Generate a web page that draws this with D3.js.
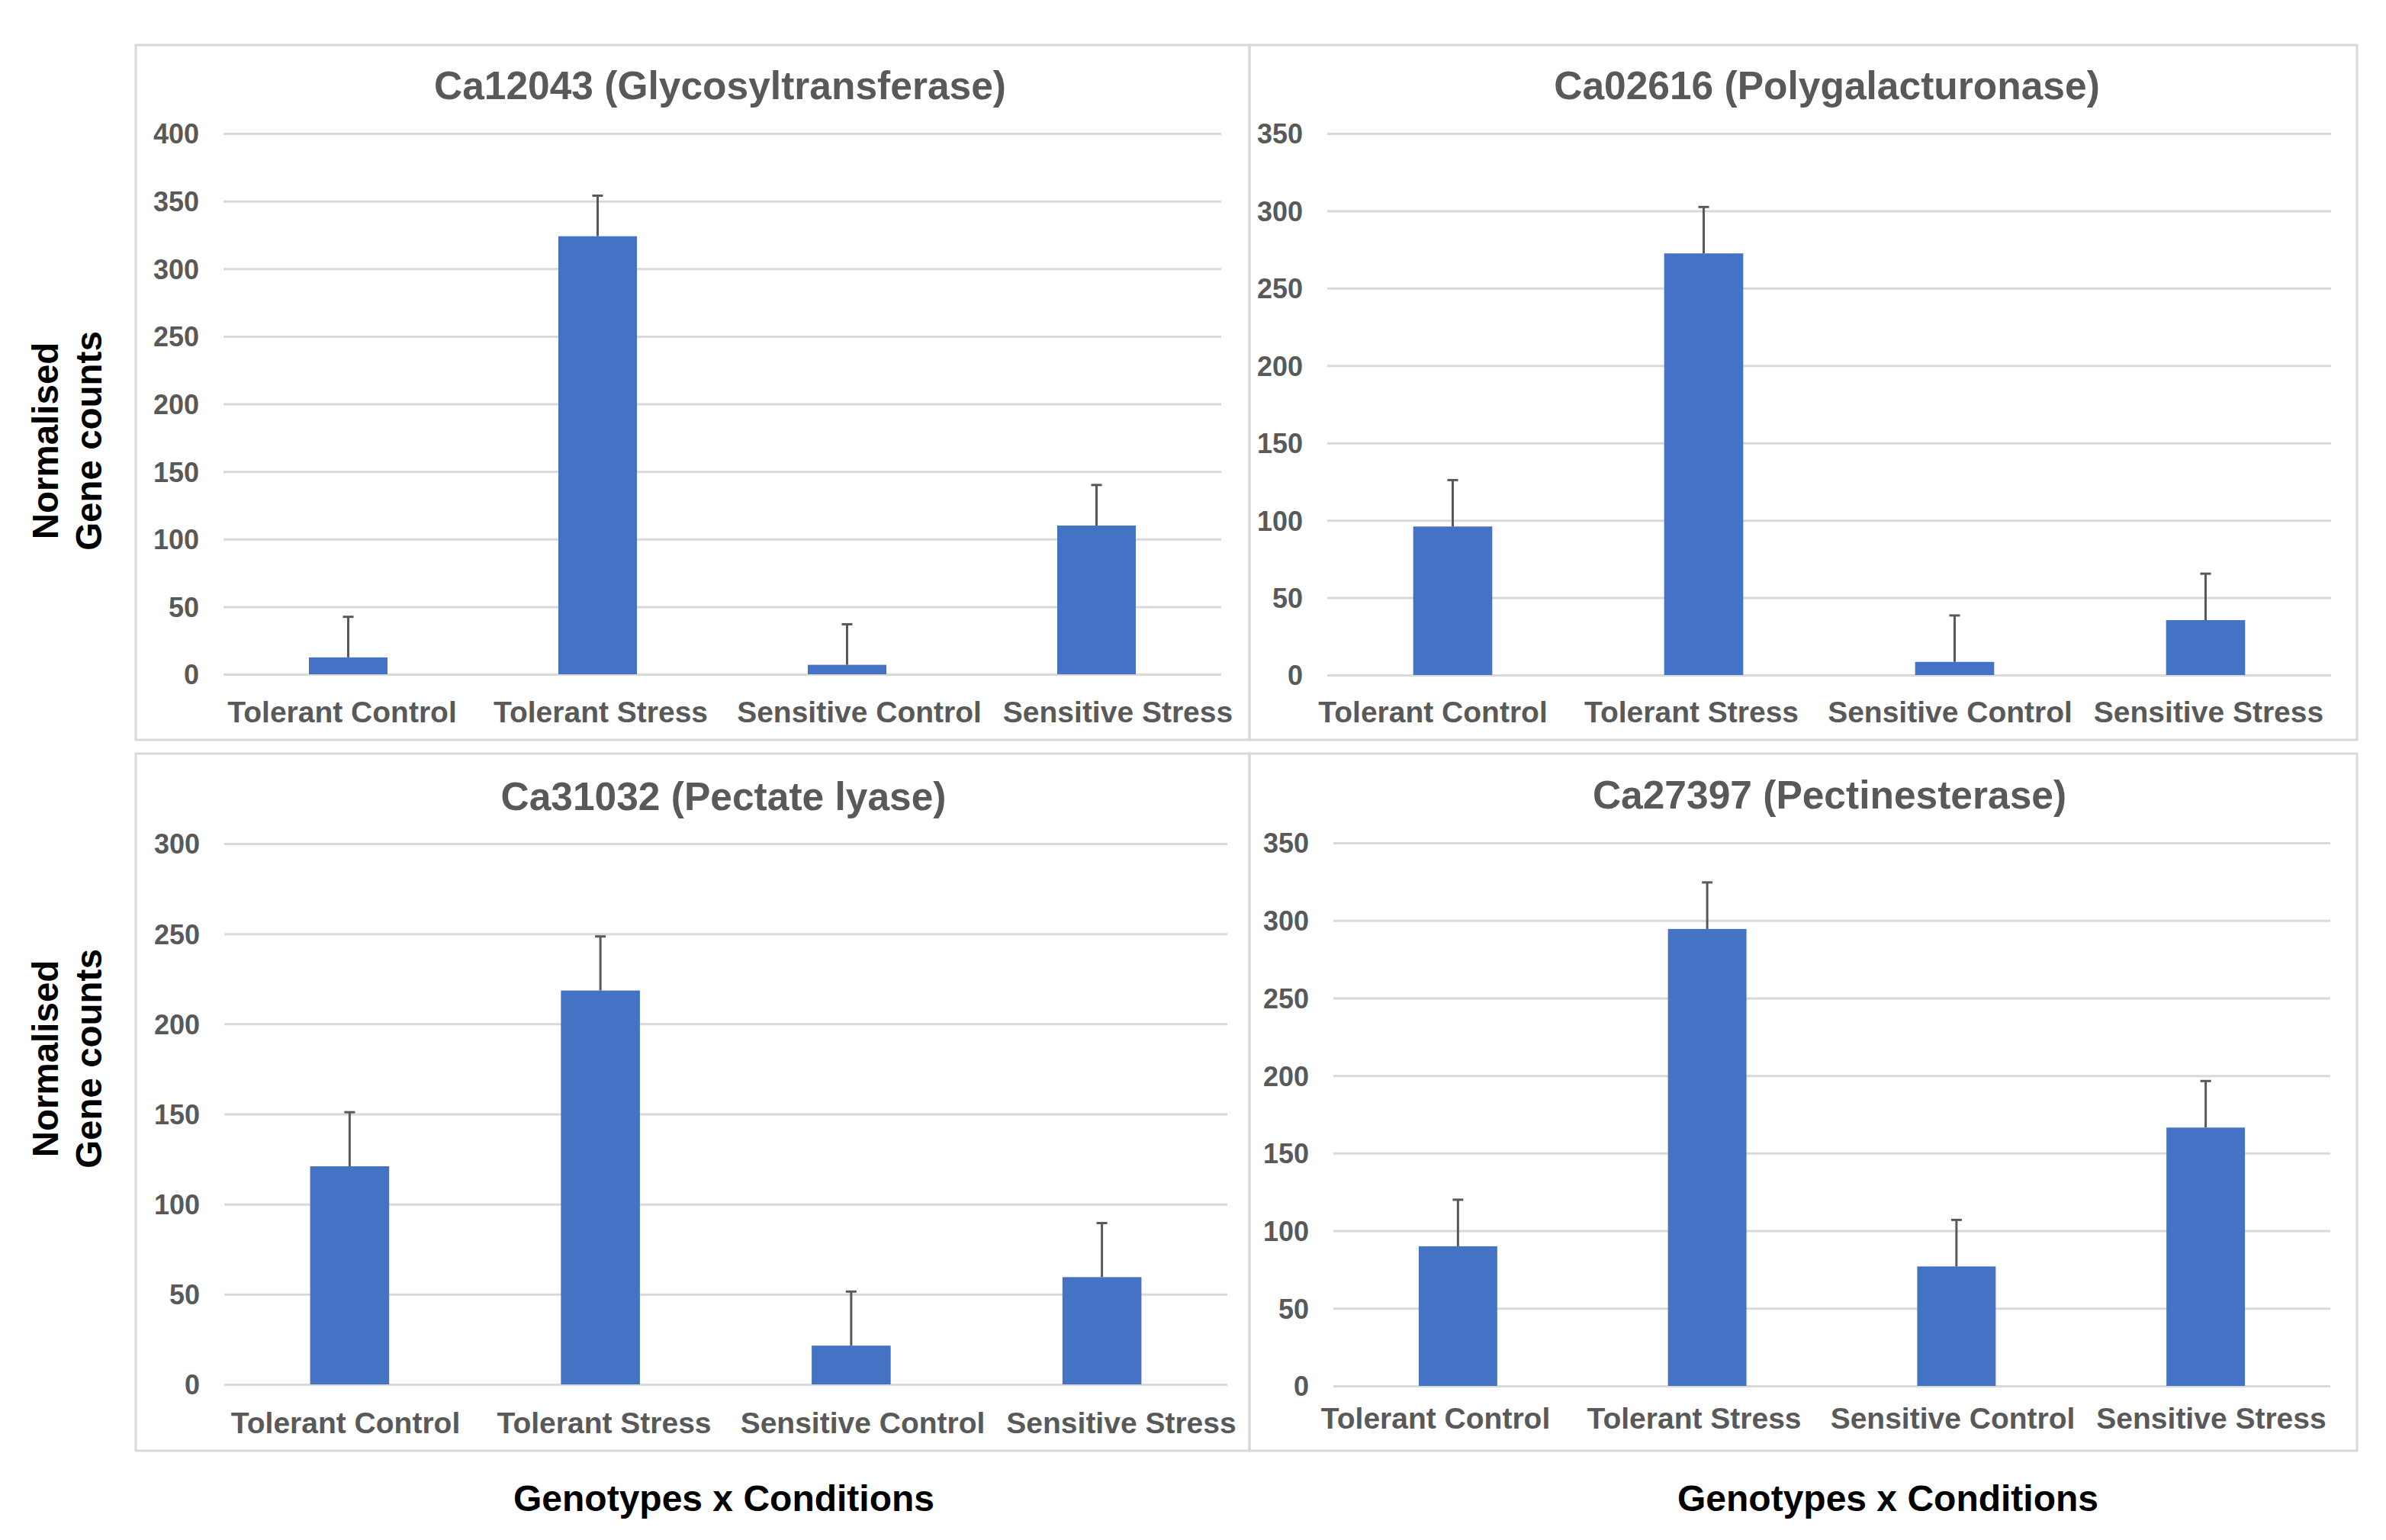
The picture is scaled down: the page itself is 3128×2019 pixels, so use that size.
<!DOCTYPE html>
<html>
<head>
<meta charset="utf-8">
<script src="https://cdn.jsdelivr.net/npm/d3@7"></script>
<style>
  body { margin: 0; background: #fff; }
  text { font-family: "Liberation Sans", Arial, sans-serif; font-weight: bold; }
</style>
</head>
<body>
<script>
// categories shared by all four panels
const categories = ["Tolerant Control", "Tolerant Stress", "Sensitive Control", "Sensitive Stress"];

// gene titles
const titles = [
  "Ca12043 (Glycosyltransferase)",
  "Ca02616 (Polygalacturonase)",
  "Ca31032 (Pectate lyase)",
  "Ca27397 (Pectinesterase)"
];

// mean normalised counts
const ca12043 = [12.5, 324, 7, 110];
const ca02616 = [96, 272.5, 8.5, 35.5];
const ca31032 = [121, 218.5, 21.5, 59.5];
const ca27397 = [90, 294.5, 77, 166.5];

// upper error bar lengths
const ca12043Err = [30, 30, 30, 30];
const ca02616Err = [30, 30, 30, 30];
const ca31032Err = [30, 30, 30, 30];
const ca27397Err = [30, 30, 30, 30];

// y axis maxima (ticks every 50)
const yMax = [400, 350, 300, 350];
const tickStep = 50;

const W = 3128, H = 2019;
const svg = d3.select("body").append("svg")
    .attr("width", W)
    .attr("height", H);

// layout of each panel box and its plot area
const panels = [
  { vals: ca12043, err: ca12043Err, box: [178, 59, 1638, 970], plot: [293, 175, 1601, 884], titleY: 130, labY: 947, labDx: 10 },
  { vals: ca02616, err: ca02616Err, box: [1638, 59, 3090, 970], plot: [1740, 175, 3056, 885], titleY: 130, labY: 947, labDx: -11 },
  { vals: ca31032, err: ca31032Err, box: [178, 988, 1638, 1902], plot: [294, 1106, 1609, 1815], titleY: 1062, labY: 1879, labDx: 10 },
  { vals: ca27397, err: ca27397Err, box: [1638, 988, 3090, 1902], plot: [1748, 1105, 3055, 1817], titleY: 1060, labY: 1873, labDx: -11 }
];

panels.forEach((p, i) => {
  const [bx0, by0, bx1, by1] = p.box;
  const [x0, y0, x1, y1] = p.plot;
  const cx = (x0 + x1) / 2;
  const g = svg.append("g");

  // panel frame
  g.append("rect")
      .attr("x", bx0).attr("y", by0)
      .attr("width", bx1 - bx0).attr("height", by1 - by0)
      .attr("fill", "none")
      .attr("stroke", "#d9d9d9")
      .attr("stroke-width", 3);

  const x = d3.scaleBand()
      .domain(categories)
      .range([x0, x1])
      .paddingInner(0.685)
      .paddingOuter(0.3425);

  // Excel spreads the category labels a little wider than the bars
  const lc = cx + p.labDx;
  const xl = d3.scaleBand()
      .domain(categories)
      .range([lc - 678, lc + 678]);

  const y = d3.scaleLinear()
      .domain([0, yMax[i]])
      .range([y1, y0]);

  // y axis with gridlines
  const yAxis = g.append("g")
      .attr("transform", `translate(${x0},0)`)
      .call(d3.axisLeft(y)
        .tickValues(d3.range(0, yMax[i] + 1, tickStep))
        .tickSize(-(x1 - x0))
        .tickPadding(32));
  yAxis.select(".domain").remove();
  yAxis.selectAll(".tick line")
      .attr("stroke", "#d9d9d9")
      .attr("stroke-width", 3);
  yAxis.selectAll(".tick text")
      .attr("fill", "#595959")
      .style("font-size", "36px")
      .attr("dy", "0.36em");

  // category labels
  const xAxis = g.append("g")
      .attr("transform", `translate(0,${y1})`)
      .call(d3.axisBottom(xl).tickSize(0).tickPadding(0));
  xAxis.select(".domain").remove();
  xAxis.selectAll(".tick text")
      .attr("fill", "#595959")
      .style("font-size", "39px")
      .attr("dy", null)
      .attr("y", p.labY - y1);

  // bars
  g.selectAll("rect.bar")
      .data(p.vals)
      .join("rect")
      .attr("class", "bar")
      .attr("x", (d, j) => x(categories[j]))
      .attr("width", x.bandwidth())
      .attr("y", d => y(d))
      .attr("height", d => y(0) - y(d))
      .attr("fill", "#4472c4");

  // error bars (upper only)
  const eb = g.selectAll("g.err")
      .data(p.vals.map((v, j) => ({ v, e: p.err[j], c: categories[j] })))
      .join("g")
      .attr("class", "err")
      .attr("stroke", "#595959")
      .attr("stroke-width", 3);
  eb.append("line")
      .attr("x1", d => x(d.c) + x.bandwidth() / 2)
      .attr("x2", d => x(d.c) + x.bandwidth() / 2)
      .attr("y1", d => y(d.v))
      .attr("y2", d => y(d.v + d.e));
  eb.append("line")
      .attr("x1", d => x(d.c) + x.bandwidth() / 2 - 7)
      .attr("x2", d => x(d.c) + x.bandwidth() / 2 + 7)
      .attr("y1", d => y(d.v + d.e))
      .attr("y2", d => y(d.v + d.e));

  // title
  g.append("text")
      .attr("x", cx - 3)
      .attr("y", p.titleY)
      .attr("text-anchor", "middle")
      .attr("fill", "#595959")
      .style("font-size", "51.5px")
      .text(titles[i]);
});

// shared y axis titles
[578, 1388].forEach(cy => {
  const t = svg.append("text")
      .attr("transform", `translate(0,${cy}) rotate(-90)`)
      .attr("text-anchor", "middle")
      .attr("fill", "#000")
      .style("font-size", "47.5px");
  t.append("tspan").attr("x", 0).attr("y", 76).text("Normalised");
  t.append("tspan").attr("x", 0).attr("y", 133).text("Gene counts");
});

// shared x axis titles
[949, 2475].forEach(cx => {
  svg.append("text")
      .attr("x", cx)
      .attr("y", 1981)
      .attr("text-anchor", "middle")
      .attr("fill", "#000")
      .style("font-size", "48px")
      .text("Genotypes x Conditions");
});
</script>
</body>
</html>
